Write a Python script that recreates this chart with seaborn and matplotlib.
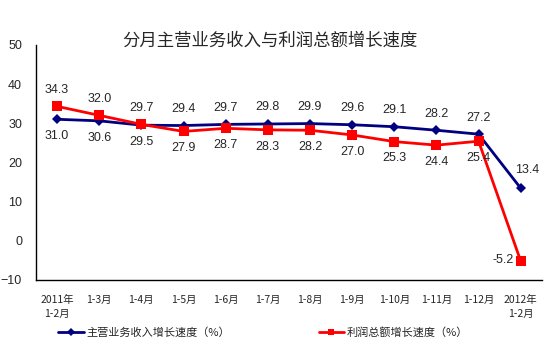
import matplotlib
matplotlib.use("Agg")
import matplotlib.pyplot as plt
import seaborn as sns
import pandas as pd

months = ["2011年\n1-2月", "1-3月", "1-4月", "1-5月", "1-6月", "1-7月", "1-8月",
          "1-9月", "1-10月", "1-11月", "1-12月", "2012年\n1-2月"]
revenue = [31.0, 30.6, 29.5, 29.4, 29.7, 29.8, 29.9, 29.6, 29.1, 28.2, 27.2, 13.4]
profit = [34.3, 32.0, 29.7, 27.9, 28.7, 28.3, 28.2, 27.0, 25.3, 24.4, 25.4, -5.2]
rev_name = "主营业务收入增长速度（%）"
pro_name = "利润总额增长速度（%）"

sns.set_theme(style="white")
plt.rcParams['font.family'] = ['Liberation Sans', 'Noto Sans CJK SC', 'DejaVu Sans']
cjk = ['Noto Sans CJK SC', 'DejaVu Sans']

df = pd.DataFrame({"idx": list(range(len(months))) * 2,
                   "val": revenue + profit,
                   "series": [rev_name] * len(months) + [pro_name] * len(months)})

fig = plt.figure(figsize=(5.54, 3.53), dpi=100)
ax = fig.add_axes([0.065, 0.207, 0.913, 0.666])

sns.lineplot(data=df, x="idx", y="val", hue="series", style="series",
             palette={rev_name: "#000080", pro_name: "#FF0000"},
             markers={rev_name: "D", pro_name: "s"}, dashes=False,
             markersize=5.5, linewidth=2, markeredgewidth=0, ax=ax)
for ln in ax.get_lines():
    if ln.get_marker() == "s":
        ln.set_markersize(6.5)

ax.set_xlim(-0.5, len(months) - 0.5)
ax.set_ylim(-10, 50)
ax.set_yticks(range(-10, 51, 10))
ax.set_xticks(range(len(months)))
ax.set_xticklabels(months, fontsize=7.5, family=cjk, linespacing=1.5)
ax.set_xticks([i - 0.5 for i in range(len(months) + 1)], minor=True)
ax.tick_params(axis="x", which="major", length=0, pad=11)
ax.tick_params(axis="x", which="minor", length=4, width=1, color="black", direction="out")
ax.tick_params(axis="y", length=4, width=1, color="black", direction="out", labelsize=9, pad=6)
ax.set_xlabel("")
ax.set_ylabel("")
for s in ["top", "right"]:
    ax.spines[s].set_visible(False)
for s in ["left", "bottom"]:
    ax.spines[s].set_color("black")
    ax.spines[s].set_linewidth(1)

# data labels
for i, (r, p) in enumerate(zip(revenue, profit)):
    if i == len(months) - 1:
        ax.annotate(f"{r:.1f}", (i, r), xytext=(5, 13), textcoords="offset points",
                    ha="center", va="center", fontsize=9)
        ax.annotate(f"{p:.1f}", (i, p), xytext=(-13, 1), textcoords="offset points",
                    ha="center", va="center", fontsize=9)
        continue
    top, bot = (p, r) if p > r else (r, p)
    ax.annotate(f"{top:.1f}", (i, top), xytext=(0, 12), textcoords="offset points",
                ha="center", va="center", fontsize=9)
    ax.annotate(f"{bot:.1f}", (i, bot), xytext=(0, -12), textcoords="offset points",
                ha="center", va="center", fontsize=9)

fig.text(0.487, 0.885, "分月主营业务收入与利润总额增长速度", ha="center", va="center",
         fontsize=12.5, family=cjk)

handles, labels = ax.get_legend_handles_labels()
ax.legend(handles, labels, loc="center", bbox_to_anchor=(0.475, 0.057),
          bbox_transform=fig.transFigure, ncol=2, frameon=False,
          prop={"family": cjk, "size": 8}, markerscale=0.75,
          handlelength=2.3, handletextpad=0.2, columnspacing=8)

fig.savefig("out.png", dpi=100)
